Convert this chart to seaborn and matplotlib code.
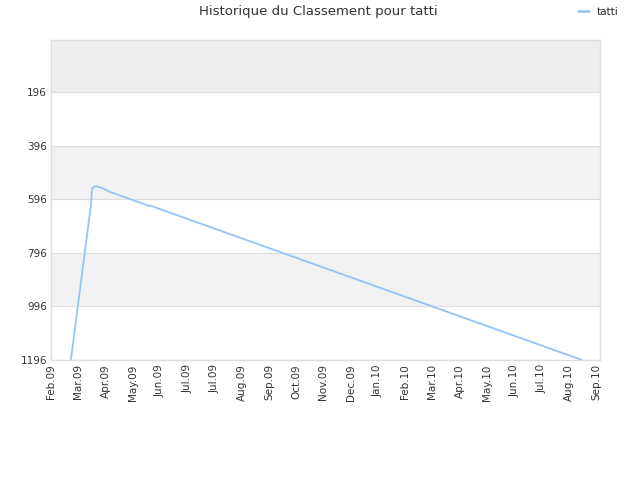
import matplotlib
matplotlib.use("Agg")
import matplotlib.pyplot as plt
import seaborn as sns
import pandas as pd

# x positions in month-tick units (0 = Feb.09), rank values
x_pos = [0.73, 1.48, 1.50, 1.58, 1.65, 1.72, 1.87, 2.17, 3.60, 3.63, 3.70, 19.49]
rank = [1196, 606, 558, 550, 547, 550, 554, 569, 621, 619, 622, 1196]

tick_labels = ["Feb.09", "Mar.09", "Apr.09", "May.09", "Jun.09", "Jul.09", "Jul.09",
               "Aug.09", "Sep.09", "Oct.09", "Nov.09", "Dec.09", "Jan.10", "Feb.10",
               "Mar.10", "Apr.10", "May.10", "Jun.10", "Jul.10", "Aug.10", "Sep.10"]
y_ticks = [196, 396, 596, 796, 996, 1196]
series_name = "tatti"
title = "Historique du Classement pour tatti"

sns.set_theme(style="white")
plt.rcParams['font.family'] = ['DejaVu Sans']

fig = plt.figure(figsize=(6.4, 4.8), dpi=100)
ax = fig.add_axes([51/640, 120/480, 549/640, 320/480])

df = pd.DataFrame({"x": x_pos, "rank": rank, "name": series_name})

# bands
ax.axhspan(2, 196, color="#eeeeee", zorder=0, lw=0)
ax.axhspan(396, 596, color="#f2f2f2", zorder=0, lw=0)
ax.axhspan(796, 996, color="#f2f2f2", zorder=0, lw=0)
for yt in y_ticks:
    ax.axhline(yt, color="#dddddd", lw=0.8, zorder=0.5)

sns.lineplot(data=df, x="x", y="rank", hue="name", palette=["#94c4f6"],
             lw=1.3, ax=ax, legend=False, sort=False, estimator=None)

ax.set_ylim(1196, 2)
ax.set_xlim(0, 20.15)
ax.set_yticks(y_ticks)
ax.set_yticklabels([str(v) for v in y_ticks])
ax.set_xticks(range(len(tick_labels)))
ax.set_xticklabels(tick_labels, rotation=90)
ax.tick_params(axis="both", labelsize=7.5, colors="#333333", length=0, pad=3)
ax.set_xlabel("")
ax.set_ylabel("")
for s in ax.spines.values():
    s.set_color("#dddddd")
    s.set_linewidth(1)

fig.text(318/640, 1 - 12/480, title, ha="center", va="center", fontsize=9.5, color="#333333")

from matplotlib.lines import Line2D
h = Line2D([], [], color="#94c4f6", lw=1.8)
fig.legend([h], [series_name], loc="center right", bbox_to_anchor=(628/640, 1 - 12/480),
           frameon=False, fontsize=7.5, handlelength=1.0, handletextpad=0.8)

fig.savefig("out.png", dpi=100)
